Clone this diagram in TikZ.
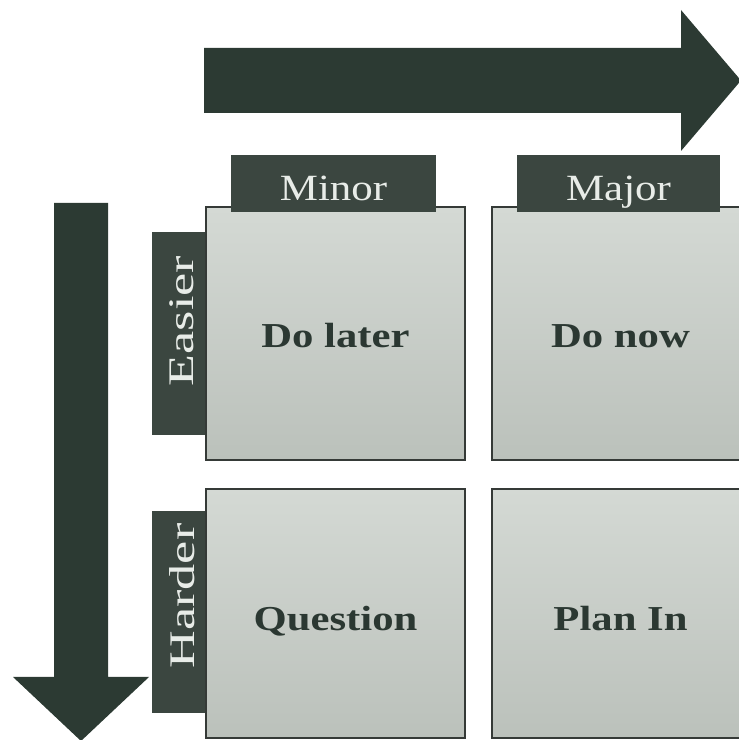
\documentclass[tikz,border=0pt]{standalone}
\usepackage{fontspec}
\setmainfont{Liberation Serif}
% widened serif faces for the labels
\newfontfamily\tabfont[FakeStretch=1.16]{Liberation Serif}
\newfontfamily\sidefont[FakeStretch=1.45]{Liberation Serif}
\newfontfamily\cellfont[FakeStretch=1.22]{Liberation Serif Bold}

\definecolor{arrowgreen}{HTML}{2C3A33}
\definecolor{tabgreen}{HTML}{3B4640}
\definecolor{celltop}{HTML}{D4D9D4}
\definecolor{cellbottom}{HTML}{BBC1BB}
\definecolor{celledge}{HTML}{353A37}
\definecolor{celltext}{HTML}{2B3832}
\definecolor{tabtext}{HTML}{E8ECE8}

\tikzset{
  bigarrow/.style={fill=arrowgreen, draw=none},
  cell/.style={draw=celledge, line width=1.6pt, top color=celltop,
    bottom color=cellbottom, minimum width=#1, minimum height=250pt,
    inner sep=0pt, outer sep=0pt},
  tabbox/.style={fill=tabgreen, draw=none, inner sep=0pt, outer sep=0pt},
  tablabel/.style={text=tabtext, inner sep=0pt,
    font=\tabfont\fontsize{37}{40}\selectfont},
  sidelabel/.style={text=tabtext, inner sep=0pt, rotate=90,
    font=\sidefont\fontsize{36}{40}\selectfont},
  celllabel/.style={text=celltext, inner sep=0pt,
    font=\cellfont\fontsize{35}{40}\selectfont},
}

\begin{document}
\begin{tikzpicture}[x=1pt, y=1pt]
\useasboundingbox (0,0) rectangle (739,740);
\clip (0,0) rectangle (739,740);

% axis arrows
\draw[bigarrow] (204,692) -- (681,692) -- (681,730) -- (741,659.5)
  -- (681,589) -- (681,627) -- (204,627) -- cycle;
\draw[bigarrow] (54,537) -- (108,537) -- (108,63) -- (149,63)
  -- (81,-1) -- (13,63) -- (54,63) -- cycle;

% row tabs (sit behind the cells)
\node[tabbox, minimum width=56pt, minimum height=203pt] (tabeasier) at (180,406.5) {};
\node[tabbox, minimum width=56pt, minimum height=202pt] (tabharder) at (180,128) {};

% the four cells
\node[cell=259pt, minimum height=253pt] (dolater)  at (335.5,406.5) {};
\node[cell=257pt, minimum height=253pt] (donow)    at (620.5,406.5) {};
\node[cell=259pt, minimum height=249pt] (question) at (335.5,126.5) {};
\node[cell=257pt, minimum height=249pt] (planin)   at (620.5,126.5) {};

% column tabs (overlap the cell tops)
\node[tabbox, minimum width=205pt, minimum height=57pt] (tabminor) at (333.5,556.5) {};
\node[tabbox, minimum width=203pt, minimum height=57pt] (tabmajor) at (618.5,556.5) {};

% labels
\node[tablabel, anchor=base] (tminor) at (333.5,539) {Minor};
\node[tablabel, anchor=base] (tmajor) at (618.5,539) {Major};
\node[sidelabel] (teasier) at (182,419) {Easier};
\node[sidelabel] (tharder) at (182,144) {Harder};

\node[celllabel, anchor=base] (tdolater)  at (335.5,392) {Do later};
\node[celllabel, anchor=base] (tdonow)    at (620.5,392) {Do now};
\node[celllabel, anchor=base] (tquestion) at (335.5,109) {Question};
\node[celllabel, anchor=base] (tplanin)   at (620.5,109) {Plan In};
\end{tikzpicture}
\end{document}
